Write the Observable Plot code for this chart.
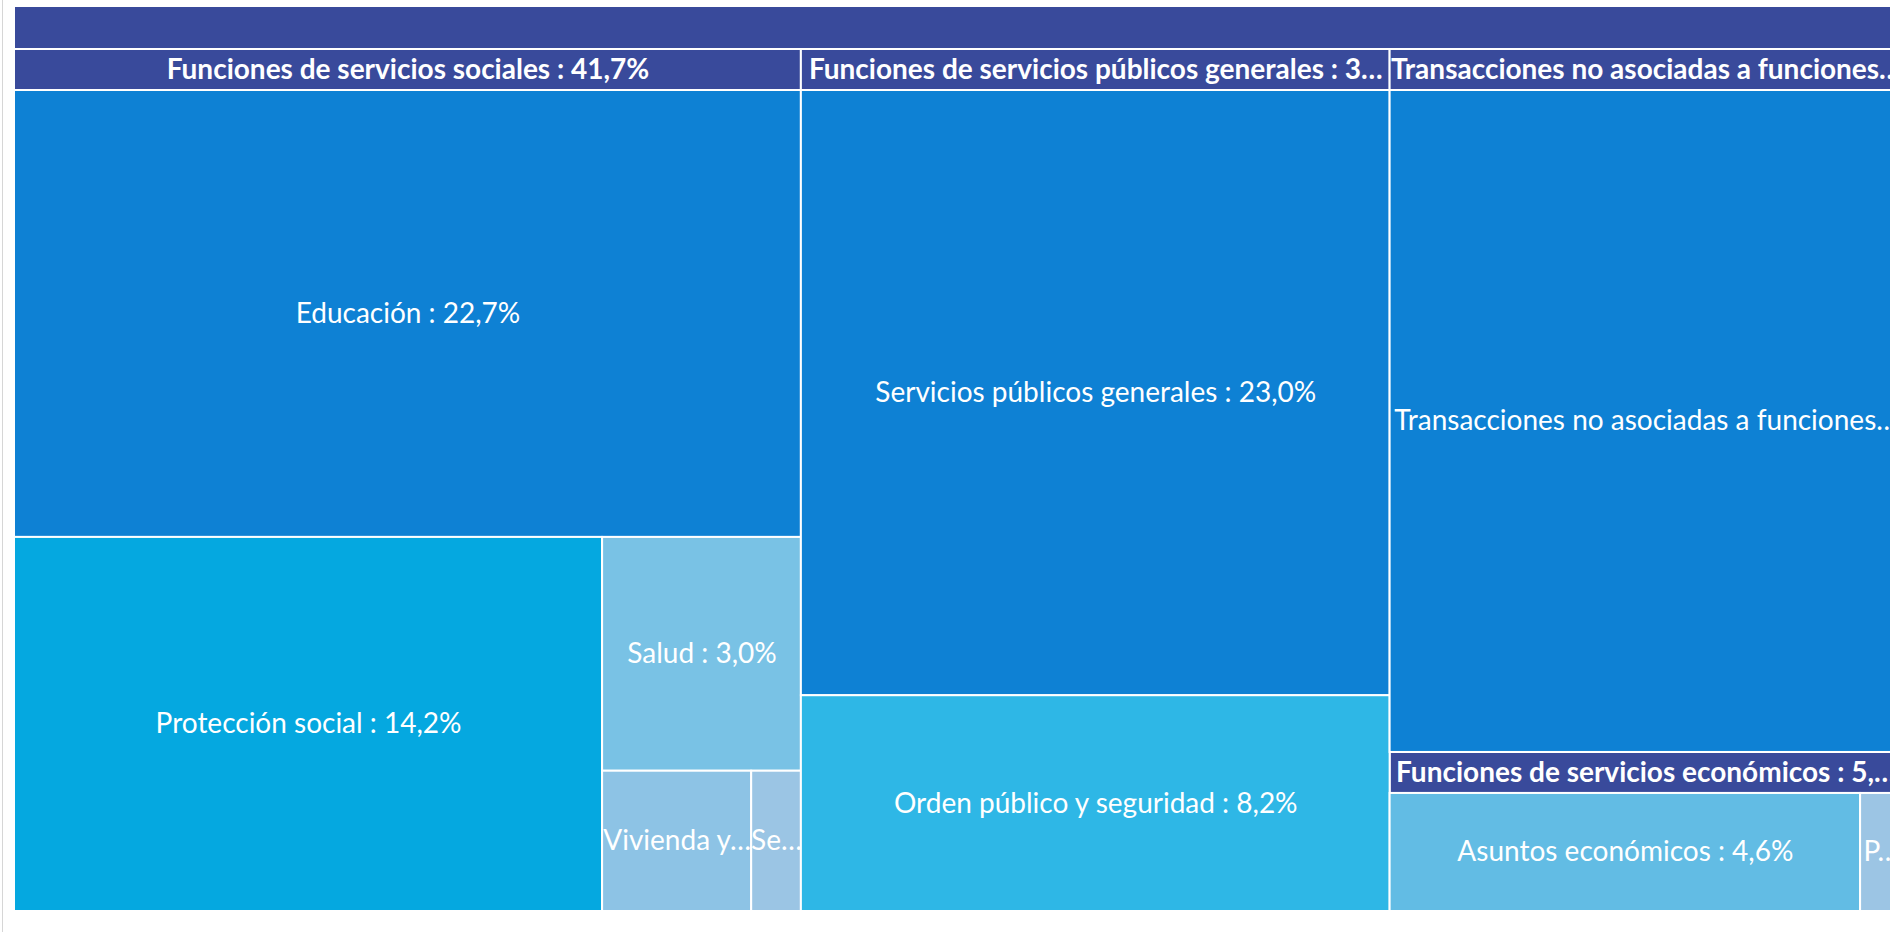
<!DOCTYPE html>
<html><head><meta charset="utf-8">
<script src="https://cdn.jsdelivr.net/npm/d3@7"></script>
<script src="https://cdn.jsdelivr.net/npm/@observablehq/plot@0.6"></script>
<style>
html,body{margin:0;padding:0;background:#fff;overflow:hidden;width:1890px;height:932px}
#frame{position:absolute;left:2px;top:0;width:1px;height:932px;background:#d6d6d6}
#chart{position:absolute;left:0;top:0;width:1905px;height:932px}
#chart svg{max-width:none !important}
</style></head><body>
<div id="chart"></div><div id="frame"></div>
<script>
// ---- data ----
const groups = [
  "Funciones de servicios sociales",
  "Funciones de servicios públicos generales",
  "Transacciones no asociadas a funciones",
  "Funciones de servicios económicos"
];
const leafNames = [
  "Educación",
  "Protección social",
  "Salud",
  "Vivienda y servicios comunitarios",
  "Servicios recreativos, culturales y religiosos",
  "Servicios públicos generales",
  "Orden público y seguridad",
  "Transacciones no asociadas a funciones",
  "Asuntos económicos",
  "Protección del medio ambiente"
];
const leafGroups = [0, 0, 0, 0, 0, 1, 1, 2, 3, 3];
const leafValues = [22.7, 14.2, 3.0, 1.35, 0.45, 23.0, 8.2, 22.1, 4.6, 0.4];

// ---- styling ----
const colorStops = [0.4, 1.35, 3.0, 4.6, 8.2, 14.2, 22.0];
const colorRange = ["#9cc5e4", "#8dc3e5", "#79c2e5", "#62bce4", "#2eb7e6", "#05a8e0", "#0e81d4"];
const headerFill = "#394a9b";
const leafFont = 28, headFont = 28;
const rootPad = 43, groupPad = 41;
const W = 1887, H = 905;

function build() {
  const rootData = {
    name: "",
    children: groups.map((g, gi) => ({
      name: g,
      children: leafNames.map((n, i) => ({name: n, value: leafValues[i], g: leafGroups[i]})).filter(d => d.g === gi)
    }))
  };
  const root = d3.hierarchy(rootData).sum(d => d.value || 0).sort((a, b) => b.value - a.value);
  d3.treemap().tile(d3.treemapSquarify.ratio(1)).size([W, H])
    .paddingTop(d => d.depth === 0 ? rootPad : groupPad)(root);

  const fmt = v => d3.format(".1f")(v).replace(".", ",") + "%";
  const ctx = document.createElement("canvas").getContext("2d");
  function fit(str, font, maxW) {
    ctx.font = font;
    if (ctx.measureText(str).width <= maxW) return str;
    let s = str;
    while (s.length > 0 && ctx.measureText(s.trimEnd() + "\u2026").width > maxW) s = s.slice(0, -1);
    return s.trimEnd() + "\u2026";
  }

  const headers = root.descendants().filter(d => d.children);
  const groupNodes = root.children;
  const leaves = root.leaves();

  const groupLabels = groupNodes.map(d => ({
    x: (d.x0 + d.x1) / 2, y: d.y0 + groupPad / 2,
    text: fit(`${d.data.name} : ${fmt(d.value)}`, `bold ${headFont}px Lato`, d.x1 - d.x0)
  }));
  const leafLabels = leaves.map(d => ({
    x: (d.x0 + d.x1) / 2, y: (d.y0 + d.y1) / 2,
    text: fit(`${d.data.name} : ${fmt(d.value)}`, `${leafFont}px Lato`, d.x1 - d.x0 + 3)
  }));

  const chart = Plot.plot({
    width: 1905, height: 932, margin: 0,
    style: {fontFamily: "Lato", background: "transparent", maxWidth: "none"},
    x: {domain: [0, W], range: [14, 14 + W], axis: null},
    y: {domain: [0, H], range: [6, 6 + H], axis: null},
    color: {type: "linear", domain: colorStops, range: colorRange, interpolate: "rgb", clamp: true},
    marks: [
      Plot.rect(headers, {x1: "x0", x2: "x1", y1: "y0", y2: d => d.y0 + (d.depth === 0 ? rootPad : groupPad),
        fill: headerFill, stroke: "white", strokeWidth: 2}),
      Plot.rect(leaves, {x1: "x0", x2: "x1", y1: "y0", y2: "y1", fill: d => d.value, stroke: "white", strokeWidth: 2}),
      Plot.text(groupLabels, {x: "x", y: "y", text: "text", fill: "white", fontWeight: "bold", fontSize: headFont, fontFamily: "Lato"}),
      Plot.text(leafLabels, {x: "x", y: "y", text: "text", fill: "white", fontSize: leafFont, fontFamily: "Lato"})
    ]
  });
  document.getElementById("chart").appendChild(chart);
}
(document.fonts && document.fonts.load ? Promise.all([document.fonts.load("28px Lato"), document.fonts.load("bold 28px Lato")]) : Promise.resolve())
  .then(build, build);
</script>
</body></html>
